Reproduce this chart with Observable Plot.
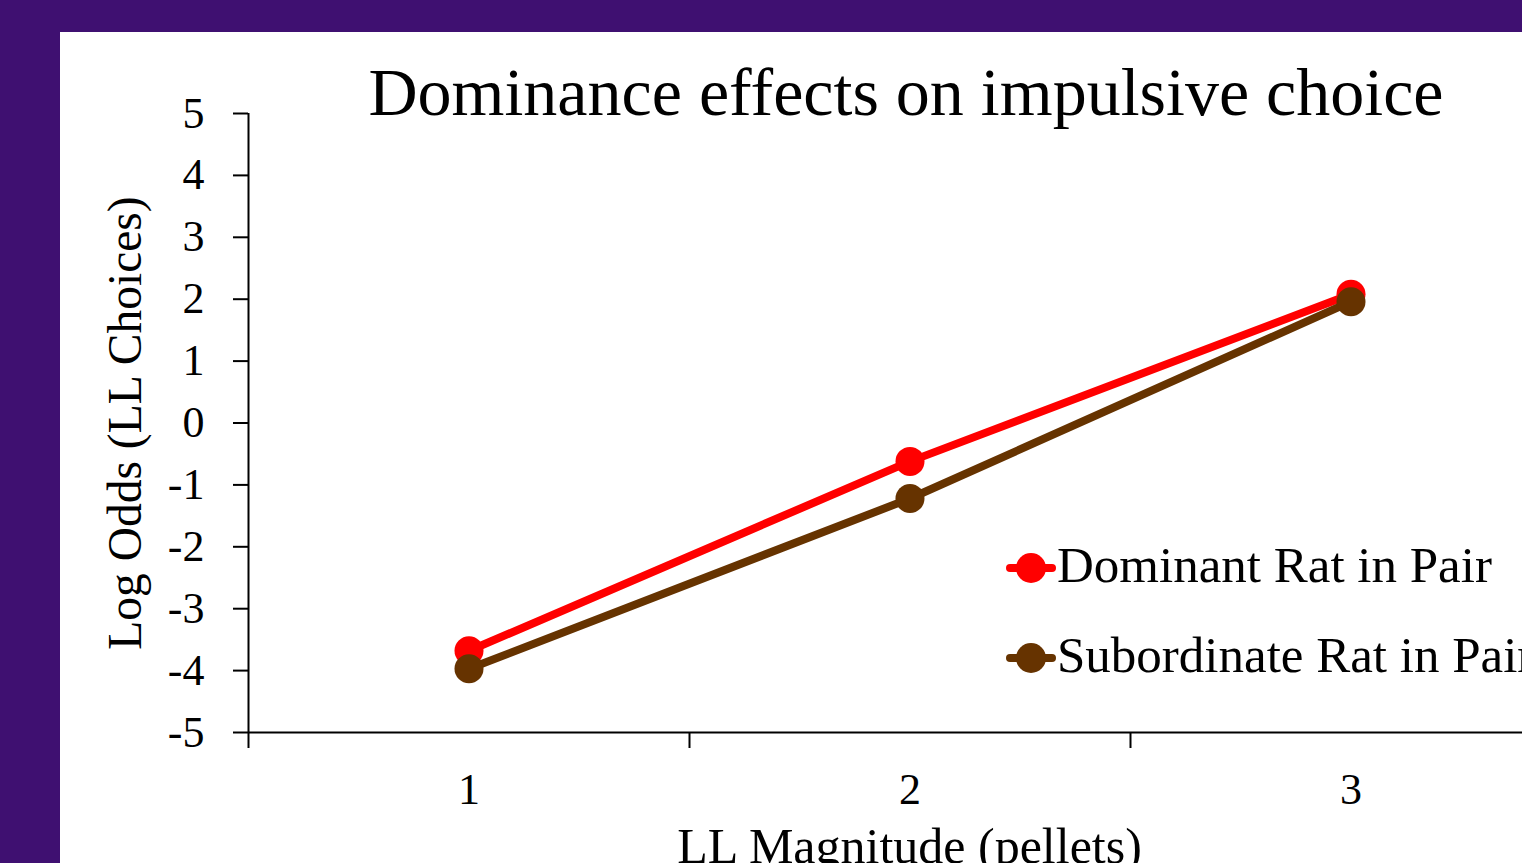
<!DOCTYPE html>
<html><head><meta charset="utf-8">
<script src="https://cdn.jsdelivr.net/npm/d3@7"></script>
<script src="https://cdn.jsdelivr.net/npm/@observablehq/plot@0.6"></script>
<style>
html,body{margin:0;padding:0;width:1522px;height:863px;overflow:hidden;background:#3f1071;}
#panel{position:absolute;left:60px;top:32px;width:1462px;height:831px;background:#fff;overflow:hidden;font-family:"Liberation Serif","Times New Roman",serif;color:#000;}
#panel svg.plot{position:absolute;left:0;top:0;}
.title{position:absolute;left:246px;top:26px;width:1200px;text-align:center;font-size:68px;line-height:68px;white-space:nowrap;}
.legtext{position:absolute;font-size:51px;line-height:51px;white-space:nowrap;}
.legsw{position:absolute;}
</style></head><body><div id="panel"></div>
<script>
const magnitudes = [1, 2, 3];
const xTickLabels = ["1", "2", "3"];
const seriesNames = ["Dominant Rat in Pair", "Subordinate Rat in Pair"];
const seriesColors = ["#ff0000", "#663300"];
const dominantValues = [-3.68, -0.62, 2.08];
const subordinateValues = [-3.97, -1.22, 1.96];
const yTicks = [-5, -4, -3, -2, -1, 0, 1, 2, 3, 4, 5];
const titleText = "Dominance effects on impulsive choice";
const xLabel = "LL Magnitude (pellets)";
const yLabel = "Log Odds (LL Choices)";

const valuesBySeries = [dominantValues, subordinateValues];
const data = [];
seriesNames.forEach((s, si) => magnitudes.forEach((m, i) => data.push({series: s, magnitude: m, value: valuesBySeries[si][i]})));

const seriesMarks = [];
seriesNames.forEach(s => {
  const sub = data.filter(d => d.series === s);
  seriesMarks.push(Plot.line(sub, {x: "magnitude", y: "value", stroke: "series", strokeWidth: 8}));
  seriesMarks.push(Plot.dot(sub, {x: "magnitude", y: "value", fill: "series", r: 14.5}));
});

const font = "'Liberation Serif','Times New Roman',serif";
const chart = Plot.plot({
  width: 1462, height: 831,
  marginLeft: 188, marginTop: 81, marginBottom: 131, marginRight: 0,
  style: {background: "white", fontFamily: font, color: "black", overflow: "visible"},
  x: {type: "linear", domain: [0.5, 3.5], range: [188, 1511]},
  y: {domain: [-5, 5]},
  color: {domain: seriesNames, range: seriesColors},
  marks: [
    Plot.ruleX([0.5], {stroke: "black", strokeWidth: 2}),
    Plot.ruleY([-5], {stroke: "black", strokeWidth: 2}),
    Plot.axisY({ticks: yTicks, tickSize: 15, tickPadding: 29, fontSize: 44, strokeWidth: 2, label: null, tickFormat: d => String(d)}),
    Plot.axisX({ticks: [0.5, 1.5, 2.5, 3.5], tickSize: 16, strokeWidth: 2, tickFormat: () => "", label: null}),
    Plot.axisX({ticks: magnitudes, tickSize: 0, tickPadding: 40, fontSize: 44, label: null, tickFormat: d => xTickLabels[magnitudes.indexOf(d)]}),
    Plot.text([yLabel], {text: d => d, frameAnchor: "left", textAnchor: "middle", lineAnchor: "middle", rotate: -90, dx: -123, fontSize: 47.5, fill: "black"}),
    Plot.text([xLabel], {text: d => d, frameAnchor: "bottom", textAnchor: "middle", lineAnchor: "middle", dx: 24, dy: 114, fontSize: 50, fill: "black"}),
    ...seriesMarks
  ]
});
const panel = document.getElementById("panel");
panel.appendChild(chart);

const t = document.createElement("div");
t.className = "title"; t.textContent = titleText; panel.appendChild(t);

seriesNames.forEach((s, i) => {
  const cy = 536 + i * 90;
  const ns = "http://www.w3.org/2000/svg";
  const sw = document.createElementNS(ns, "svg");
  sw.setAttribute("class", "legsw"); sw.setAttribute("width", 52); sw.setAttribute("height", 32);
  sw.style.left = "945px"; sw.style.top = (cy - 16) + "px";
  const ln = document.createElementNS(ns, "line");
  ln.setAttribute("x1", 5); ln.setAttribute("x2", 47); ln.setAttribute("y1", 16); ln.setAttribute("y2", 16);
  ln.setAttribute("stroke", seriesColors[i]); ln.setAttribute("stroke-width", 8); ln.setAttribute("stroke-linecap", "round");
  const c = document.createElementNS(ns, "circle");
  c.setAttribute("cx", 26); c.setAttribute("cy", 16); c.setAttribute("r", 15); c.setAttribute("fill", seriesColors[i]);
  sw.appendChild(ln); sw.appendChild(c); panel.appendChild(sw);
  const tx = document.createElement("div");
  tx.className = "legtext"; tx.textContent = s;
  tx.style.left = "997px"; tx.style.top = (cy + 15 - 43) + "px";
  panel.appendChild(tx);
});
</script></body></html>
